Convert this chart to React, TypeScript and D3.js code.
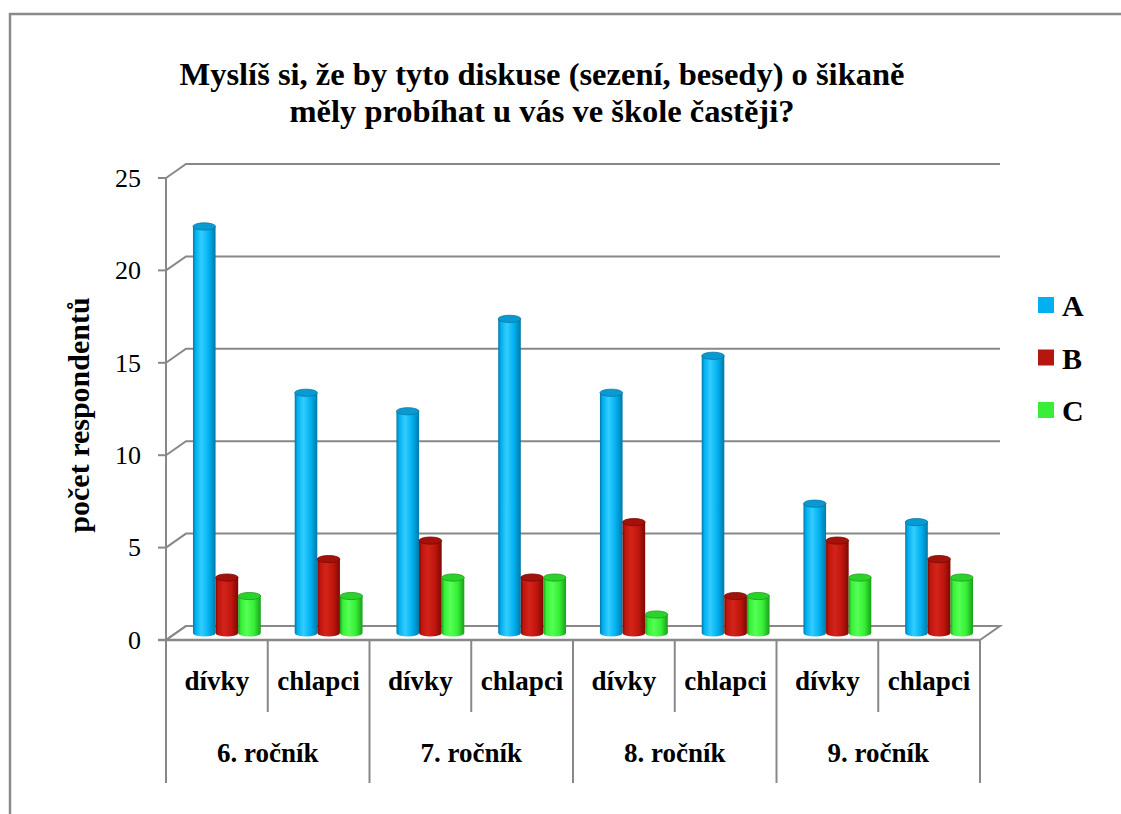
import * as d3 from "d3";

const grades = ["6. ročník", "7. ročník", "8. ročník", "9. ročník"];
const genders = ["dívky", "chlapci"];
const seriesNames = ["A", "B", "C"];
const valuesA = [22, 13, 12, 17, 13, 15, 7, 6];
const valuesB = [3, 4, 5, 3, 6, 2, 5, 4];
const valuesC = [2, 2, 3, 3, 1, 2, 3, 3];
const yTicks = [0, 5, 10, 15, 20, 25];

const W = 1121;
const H = 814;
const FONT = "'Liberation Serif', 'Times New Roman', serif";
const GRID = "#888888";

// 3d depth of the chart box
const DX = 20;
const DY = -14;

const palette = [
  { base: "#00b0f0", light: "#33cdff", dark: "#0079a8", top: "#0a9ad2", legend: "#00b0f0" },
  { base: "#c0160d", light: "#d3241a", dark: "#7c0904", top: "#a2110a", legend: "#b5170f" },
  { base: "#36f036", light: "#55ff55", dark: "#1c9e1c", top: "#2cd22c", legend: "#38ee38" },
];

export default function App() {
  const cats = grades.flatMap((g) => genders.map((s) => `${g}|${s}`));
  const series = [valuesA, valuesB, valuesC];

  const x = d3.scaleBand<string>().domain(cats).range([166, 980]).padding(0);
  const xg = d3.scaleBand<string>().domain(grades).range([166, 980]).padding(0);
  const xs = d3
    .scaleBand<string>()
    .domain(seriesNames)
    .range([0, x.bandwidth()])
    .paddingInner(0)
    .paddingOuter(0.75);
  const y = d3.scaleLinear().domain([0, 25]).range([640, 178]);

  const bw = xs.bandwidth();
  const rx = bw / 2;
  const ry = 3.6;
  const [x0, x1] = x.range();

  return (
    <svg
      width={W}
      height={H}
      style={{ position: "absolute", left: 0, top: 0, background: "#fff" }}
      fontFamily={FONT}
    >
      <defs>
        {palette.map((p, i) => (
          <linearGradient key={i} id={`cyl${i}`} x1="0" x2="1" y1="0" y2="0">
            <stop offset="0" stopColor={p.dark} />
            <stop offset="0.12" stopColor={p.base} />
            <stop offset="0.38" stopColor={p.light} />
            <stop offset="0.7" stopColor={p.base} />
            <stop offset="1" stopColor={p.dark} />
          </linearGradient>
        ))}
      </defs>

      {/* outer frame */}
      <rect x={10} y={14} width={1300} height={1000} fill="#fff" stroke="#8a8a8a" strokeWidth={2.5} />

      {/* title */}
      <g fontWeight="bold" fontSize={32.5} textAnchor="middle" fill="#000">
        <text x={542} y={85}>Myslíš si, že by tyto diskuse (sezení, besedy) o šikaně</text>
        <text x={542} y={122}>měly probíhat u vás ve škole častěji?</text>
      </g>

      {/* floor */}
      <polygon
        points={`${x0},${y(0)} ${x1},${y(0)} ${x1 + DX},${y(0) + DY} ${x0 + DX},${y(0) + DY}`}
        fill="#fff"
        stroke={GRID}
        strokeWidth={2}
      />

      {/* gridlines: side wall + back wall */}
      {yTicks.map((t) => (
        <g key={t} stroke={GRID} strokeWidth={2} fill="none">
          <polyline points={`${x0},${y(t)} ${x0 + DX},${y(t) + DY} ${x1 + DX},${y(t) + DY}`} />
          <line x1={x0 - 8} x2={x0} y1={y(t)} y2={y(t)} />
        </g>
      ))}

      {/* y axis line */}
      <line x1={x0} x2={x0} y1={y(25)} y2={y(0)} stroke={GRID} strokeWidth={2} />

      {/* y tick labels */}
      <g fontSize={26} textAnchor="end" fill="#000">
        {yTicks.map((t) => (
          <text key={t} x={141} y={y(t)} dy="0.34em">
            {t}
          </text>
        ))}
      </g>

      {/* y axis title */}
      <text
        transform={`translate(89, 415) rotate(-90)`}
        textAnchor="middle"
        fontWeight="bold"
        fontSize={30}
      >
        počet respondentů
      </text>

      {/* cylinders */}
      {cats.map((c, ci) => (
        <g key={c}>
          {series.map((vals, si) => {
            const v = vals[ci];
            const bx = (x(c) ?? 0) + (xs(seriesNames[si]) ?? 0) + DX / 2;
            const yb = y(0) + DY / 2;
            const yt = y(v) + DY / 2;
            const p = palette[si];
            const body = `M${bx},${yt} L${bx},${yb} A${rx},${ry} 0 0 0 ${bx + bw},${yb} L${bx + bw},${yt} Z`;
            return (
              <g key={si}>
                <path d={body} fill={`url(#cyl${si})`} />
                <ellipse
                  cx={bx + rx}
                  cy={yt}
                  rx={rx}
                  ry={ry}
                  fill={p.top}
                  stroke={p.dark}
                  strokeWidth={0.8}
                />
              </g>
            );
          })}
        </g>
      ))}

      {/* x axis: front floor edge and separators */}
      <line x1={x0 - 8} x2={x1} y1={y(0)} y2={y(0)} stroke={GRID} strokeWidth={2.5} />
      {cats.map((c, i) => (
        <line
          key={c}
          x1={x(c)}
          x2={x(c)}
          y1={y(0)}
          y2={i % 2 === 0 ? 783 : 712}
          stroke={GRID}
          strokeWidth={2}
        />
      ))}
      <line x1={x1} x2={x1} y1={y(0)} y2={783} stroke={GRID} strokeWidth={2} />

      {/* category labels */}
      <g fontWeight="bold" fontSize={27} textAnchor="middle" fill="#000">
        {cats.map((c) => (
          <text key={c} x={(x(c) ?? 0) + x.bandwidth() / 2} y={690}>
            {c.split("|")[1]}
          </text>
        ))}
        {grades.map((g) => (
          <text key={g} x={(xg(g) ?? 0) + xg.bandwidth() / 2} y={762}>
            {g}
          </text>
        ))}
      </g>

      {/* legend */}
      <g fontWeight="bold" fontSize={30} fill="#000">
        {seriesNames.map((s, i) => (
          <g key={s} transform={`translate(1038, ${297 + i * 52.5})`}>
            <rect width={16} height={16} fill={palette[i].legend} />
            <text x={24} y={19}>
              {s}
            </text>
          </g>
        ))}
      </g>
    </svg>
  );
}
